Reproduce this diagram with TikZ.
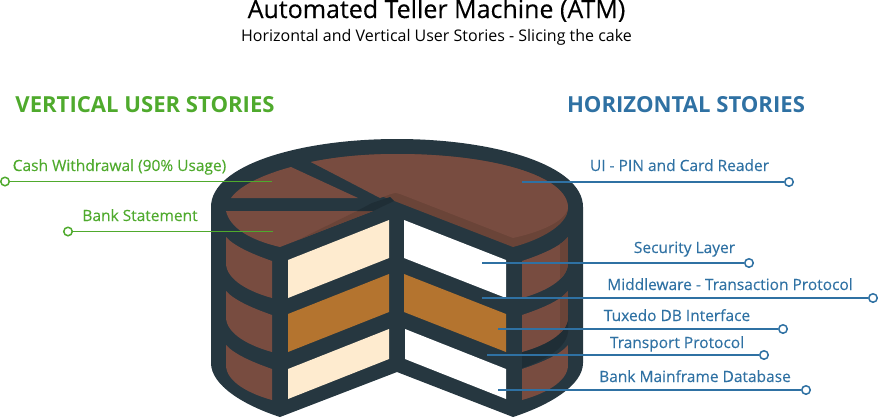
\documentclass[tikz,border=0pt]{standalone}
\usepackage{fontspec}
\setmainfont{Open Sans}
\newfontfamily\storyfont[FakeBold=0.25]{Open Sans}
\definecolor{cakedark}{HTML}{263740}
\definecolor{cakedarker}{HTML}{1F2E36}
\definecolor{cakebrown}{HTML}{784C40}
\definecolor{cakeshade}{HTML}{6A4438}
\definecolor{cakecream}{HTML}{FEEBCF}
\definecolor{cakeorange}{HTML}{B4742F}
\definecolor{vertgreen}{HTML}{4FAA2D}
\definecolor{horizblue}{HTML}{2F71A3}
\tikzset{
	vertline/.style = {draw = vertgreen, line width = 1.5pt},
	horizline/.style = {draw = horizblue, line width = 1.5pt},
	vertdot/.style = {circle, draw = vertgreen, fill = white, line width = 1.5pt, inner sep = 0pt, minimum size = 8.5pt},
	horizdot/.style = {circle, draw = horizblue, fill = white, line width = 1.5pt, inner sep = 0pt, minimum size = 8.5pt},
	vertlabel/.style = {anchor = base, text = vertgreen, font = \storyfont\fontsize{15.5}{17}\selectfont, inner sep = 0pt},
	horizlabel/.style = {anchor = base, text = horizblue, font = \storyfont\fontsize{15.5}{17}\selectfont, inner sep = 0pt},
	headlabel/.style = {anchor = base, inner sep = 0pt, font = \bfseries\fontsize{22.1}{24}\selectfont}
}
\begin{document}
\begin{tikzpicture}[x = 1pt, y = -1pt]
	\useasboundingbox (0, 0) rectangle (878, 418);
	% titles
	\node[anchor = base, inner sep = 0pt, font = \storyfont\fontsize{25}{28}\selectfont] (title) at (436.5, 18) {Automated Teller Machine (ATM)};
	\node[anchor = base, inner sep = 0pt, font = \fontsize{16}{18}\selectfont] (subtitle) at (436.5, 41) {Horizontal and Vertical User Stories - Slicing the cake};
	\node[headlabel, text = vertgreen] (verthead) at (145, 112) {VERTICAL USER STORIES};
	\node[headlabel, text = horizblue] (horizhead) at (686, 112) {HORIZONTAL STORIES};
	% cake body
	\fill[cakedark] (211, 207) .. controls (211, 165) and (300, 139) .. (397, 139) .. controls (494, 139) and (583, 165) .. (583, 207) -- (583, 363) .. controls (583, 385) and (550, 405) .. (513, 417) -- (397, 372) -- (280, 417) .. controls (243, 405) and (211, 385) .. (211, 363) -- cycle;
	% top of the cake
	\fill[cakeshade] (311, 162) .. controls (340, 156) and (370, 154) .. (397, 154) .. controls (490, 154) and (568, 175) .. (568, 208) .. controls (568, 225) and (540, 240) .. (513, 247) -- (397, 202) -- (373, 193) -- cycle;
	\fill[cakebrown] (311, 162) .. controls (340, 156) and (370, 154) .. (397, 154) .. controls (490, 154) and (568, 175) .. (568, 208) .. controls (565, 222) and (540, 232) .. (513, 238) -- (400, 194) .. controls (397, 192.5) and (394, 192.5) .. (391, 194) -- (380, 198) -- cycle;
	\fill[cakebrown] (291, 167) -- (358, 198) -- (231, 198) .. controls (240, 185) and (265, 174) .. (291, 167) -- cycle;
	\fill[cakebrown] (226, 211) -- (373, 211) -- (280, 247) .. controls (250, 240) and (230, 228) .. (226, 211) -- cycle;
	\fill[cakeshade] (373, 211) -- (298, 240) -- (357, 211) -- cycle;
	\fill[cakedarker] (357, 211) -- (372, 203) -- (390, 197) -- (394, 201) -- (373, 211) -- cycle;
	% shadow on the dark band
	\fill[cakedarker] (560, 315) -- (568, 315) -- (568, 332) .. controls (566, 350) and (540, 362) .. (522, 368) -- (522, 350) -- cycle;
	% sides of the cake
	\foreach \y/\b/\s in {0/263/1, 54/317/1, 108/365/0} {
		\begin{scope}
			\clip (522, 261 + \y) .. controls (540, 255 + \y) and (560, 247 + \y) .. (568, 237 + \y) -- (568, \b) .. controls (568, \b + 17) and (544, \b + 29) .. (522, \b + 35) -- cycle;
			\fill[cakebrown] (522, 230 + \y) rectangle (568, \b + 40);
			\ifnum\s=1 \fill[cakeshade] (560, 230 + \y) rectangle (568, \b + 40); \fi
		\end{scope}
		\fill[cakebrown] (226, 237 + \y) .. controls (235, 247 + \y) and (255, 255 + \y) .. (272, 261 + \y) -- (272, \b + 35) .. controls (250, \b + 29) and (226, \b + 17) .. (226, \b) -- cycle;
	}
	% cut faces
	\fill[cakecream] (288, 260) -- (389, 220) -- (389, 258) -- (288, 298) -- cycle;
	\fill[cakeorange] (288, 314) -- (389, 274) -- (389, 312) -- (288, 352) -- cycle;
	\fill[cakecream] (288, 369) -- (389, 329) -- (389, 359) -- (288, 399) -- cycle;
	\fill[white] (404, 220) -- (506, 260) -- (506, 298) -- (404, 258) -- cycle;
	\fill[cakeorange] (404, 274) -- (506, 314) -- (506, 352) -- (404, 312) -- cycle;
	\fill[white] (405, 329) -- (506, 369) -- (506, 399) -- (405, 359) -- cycle;
	% vertical stories
	\node[vertlabel] (cash) at (119.5, 171) {Cash Withdrawal (90\% Usage)};
	\node[vertlabel] (statement) at (140, 221) {Bank Statement};
	\node[vertdot] (cashdot) at (5, 181.5) {};
	\node[vertdot] (statementdot) at (68, 231.5) {};
	\coordinate (cashend) at (272, 181.5);
	\coordinate (statementend) at (273, 231.5);
	\draw[vertline] (cashdot) -- (cashend);
	\draw[vertline] (statementdot) -- (statementend);
	% horizontal stories
	\node[horizlabel] (ui) at (679.5, 171) {UI - PIN and Card Reader};
	\node[horizlabel] (security) at (684.5, 253) {Security Layer};
	\node[horizlabel] (middleware) at (730, 290) {Middleware - Transaction Protocol};
	\node[horizlabel] (tuxedo) at (677, 321) {Tuxedo DB Interface};
	\node[horizlabel] (transport) at (677, 348) {Transport Protocol};
	\node[horizlabel] (mainframe) at (695, 382) {Bank Mainframe Database};
	\foreach \name/\xa/\xb/\yy in {ui/522/789/182, security/482/749/263, middleware/482/873/298, tuxedo/498/783/329, transport/487/764/355, mainframe/498/806/390} {
		\node[horizdot] (\name dot) at (\xb, \yy) {};
		\coordinate (\name end) at (\xa, \yy);
		\draw[horizline] (\name end) -- (\name dot);
	}
\end{tikzpicture}
\end{document}
